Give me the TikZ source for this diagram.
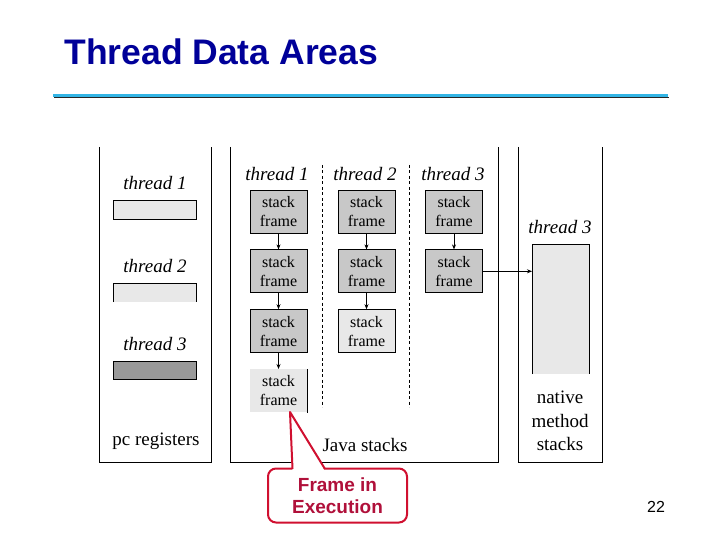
\documentclass[tikz,border=0pt]{standalone}
\usepackage{fontspec}
\setmainfont{Liberation Serif}
\newfontfamily\arialf{Liberation Sans}
\usetikzlibrary{positioning,arrows.meta}
\definecolor{titleblue}{RGB}{0,0,153}
\definecolor{rulecyan}{RGB}{51,181,229}
\definecolor{darkgray}{RGB}{200,200,200}
\definecolor{lightgray}{RGB}{232,232,232}
\definecolor{regdark}{RGB}{153,153,153}
\definecolor{calloutred}{RGB}{208,16,48}
\definecolor{callouttext}{RGB}{176,16,58}
\tikzset{
  stackframe/.style = {draw, fill = darkgray, minimum width = 57pt, minimum height = 43pt,
    inner sep = 0pt, align = center, font = \fontsize{16}{19}\selectfont},
  lightframe/.style = {stackframe, fill = lightgray},
  threadlabel/.style = {font = \fontsize{19}{21}\selectfont\itshape},
  arealabel/.style = {font = \fontsize{19}{23.5}\selectfont, align = center},
  calloutline/.style = {calloutred, line width = 2pt, line join = round}
}
\begin{document}
\begin{tikzpicture}[x = 1pt, y = -1pt, line width = 0.8pt, >={Stealth[length=5pt,width=4pt]}]
\useasboundingbox (0,0) rectangle (720,540);
% title and rule
\node [anchor = base west, text = titleblue, font = \arialf\bfseries\fontsize{35.5}{38}\selectfont, inner sep = 0pt] (title) at (64,65) {Thread Data Areas};
\draw [black!85, line width = 1.2pt] (54,97.6) -- (669,97.6);
\draw [rulecyan, line width = 2.6pt] (53,95.4) -- (668,95.4);
% pc registers
\draw (99,147) |- (211,462) -- (211,147);
\node [threadlabel] (pc1) at (155,183) {thread 1};
\draw [fill = lightgray] (113,200) rectangle (196,219);
\node [threadlabel] (pc2) at (155,266) {thread 2};
\fill [lightgray] (113,283) rectangle (196,302);
\draw (113,302) |- (196,283) -- (196,302);
\node [threadlabel] (pc3) at (155,344) {thread 3};
\draw [fill = regdark] (113,361) rectangle (196,379);
\node [arealabel] (pcname) at (156,441) {pc registers};
% java stacks
\draw (230,147) |- (498,462) -- (498,147);
\draw [dash pattern = on 3pt off 2.5pt] (322,165) -- (322,407);
\draw [dash pattern = on 3pt off 2.5pt] (409,165) -- (409,407);
\node [threadlabel] (js1) at (277,174) {thread 1};
\node [threadlabel] (js2) at (365,174) {thread 2};
\node [threadlabel] (js3) at (453,174) {thread 3};
\node [stackframe] (f11) at (278.5,211.5) {stack\\frame};
\node [stackframe, below = 16pt of f11] (f12) {stack\\frame};
\node [stackframe, below = 16pt of f12] (f13) {stack\\frame};
\node [lightframe, draw = none, below = 16pt of f13] (f14) {stack\\frame};
\draw (f14.north east) -- (f14.south east);
\node [stackframe] (f21) at (366.5,211.5) {stack\\frame};
\node [stackframe, below = 16pt of f21] (f22) {stack\\frame};
\node [lightframe, below = 16pt of f22] (f23) {stack\\frame};
\node [stackframe] (f31) at (454,211.5) {stack\\frame};
\node [stackframe, below = 16pt of f31] (f32) {stack\\frame};
\draw [->] (f11) -- (f12);
\draw [->] (f12) -- (f13);
\draw [->] (f13) -- (f14);
\draw [->] (f21) -- (f22);
\draw [->] (f22) -- (f23);
\draw [->] (f31) -- (f32);
\node [arealabel] (jsname) at (365,445) {Java stacks};
% native method stacks
\draw (518,147) |- (602,462) -- (602,147);
\node [threadlabel] (ns3) at (560,227) {thread 3};
\fill [lightgray] (532,244) rectangle (589,374);
\draw (532,374) |- (589,244) -- (589,374);
\coordinate (native) at (532,309);
\draw [->] (f32.east) -- (f32.east -| native);
\node [arealabel] (nsname) at (560,421) {native\\method\\stacks};
% callout
\node [draw = calloutred, line width = 2pt, rounded corners = 8pt, fill = white,
  minimum width = 139pt, minimum height = 54pt, align = center, text = callouttext,
  font = \arialf\bfseries\fontsize{19}{22}\selectfont] (callout) at (337.5,495.5) {Frame in\\Execution};
\coordinate (tip) at (290,412);
\fill [white] (292.5,471) -- (tip) -- (325,471) -- cycle;
\draw [calloutline] (292.5,469) -- (tip) -- (325,469);
% page number
\node [font = \arialf\fontsize{16}{18}\selectfont] (page) at (656,507) {22};
\end{tikzpicture}
\end{document}
